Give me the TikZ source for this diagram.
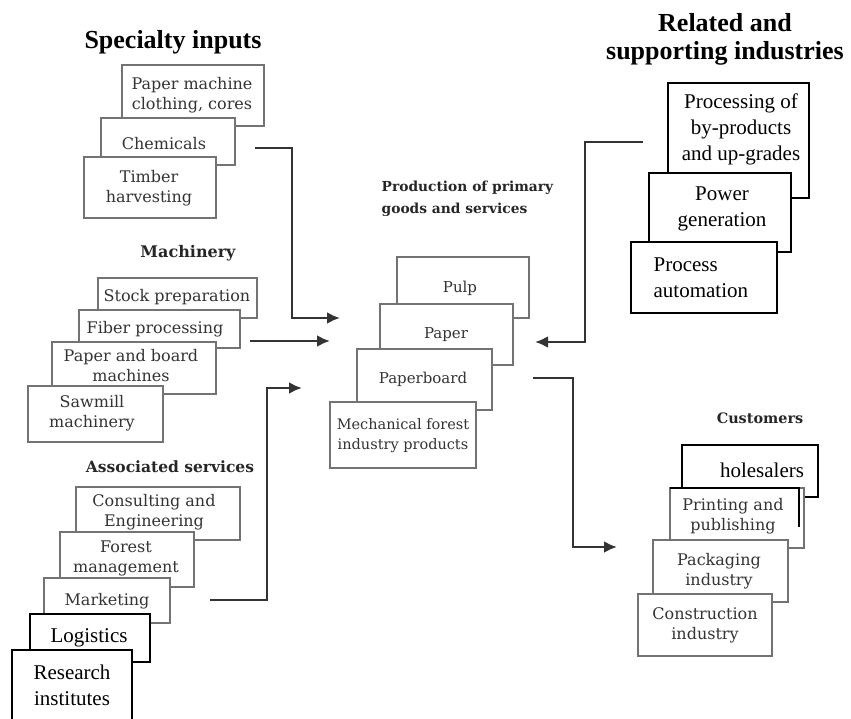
\documentclass[tikz,border=0pt]{standalone}
\usepackage{fontspec}
\setmainfont{Liberation Serif}
\newfontfamily\scanfont{DejaVu Serif}
\usetikzlibrary{arrows.meta}

\begin{document}
\begin{tikzpicture}[x=1pt, y=-1pt, line width=1.3pt,
  gbox/.style={draw=black!55, fill=white},
  kbox/.style={draw=black, fill=white},
  gtxt/.style={font=\scanfont\fontsize{#1}{20}\selectfont, text=black!80, align=center, inner sep=0pt},
  gtxt/.default=16,
  ktxt/.style={font=\fontsize{21}{26}\selectfont, align=center, inner sep=0pt},
  bigtitle/.style={font=\bfseries\fontsize{26}{28}\selectfont, align=center, inner sep=0pt},
  grptitle/.style={font=\scanfont\bfseries\fontsize{#1}{22}\selectfont, text=black!85, inner sep=0pt},
  grptitle/.default=15.5,
  flow/.style={draw=black!80, line width=2.8pt, -{Latex[length=13pt,width=12pt]}}]

\useasboundingbox (0,0) rectangle (851,719);

% Specialty inputs
\node[bigtitle] (specT) at (173,42) {Specialty inputs};
\draw[gbox] (122,65) rectangle (264,126);
\node[gtxt] (pmc) at (192,95) {Paper machine\\clothing, cores};
\draw[gbox] (101,118) rectangle (235,165);
\node[gtxt] (chem) at (164,144) {Chemicals};
\draw[gbox] (84,157) rectangle (216,218);
\node[gtxt] (timb) at (149,188) {Timber\\harvesting};

% Machinery
\node[grptitle=16] (machT) at (188,253) {Machinery};
\draw[gbox] (98,278) rectangle (257,318);
\node[gtxt] (stock) at (177,297) {Stock preparation};
\draw[gbox] (79,310) rectangle (240,348);
\node[gtxt] (fiber) at (155,329) {Fiber processing};
\draw[gbox] (52,342) rectangle (216,394);
\node[gtxt] (pbm) at (131,366) {Paper and board\\machines};
\draw[gbox] (28,386) rectangle (163,442);
\node[gtxt] (saw) at (92,413) {Sawmill\\machinery};

% Associated services
\node[grptitle] (assT) at (170,467) {Associated services};
\draw[gbox] (76,487) rectangle (240,540);
\node[gtxt] (cons) at (154,512) {Consulting and\\Engineering};
\draw[gbox] (60,532) rectangle (194,587);
\node[gtxt] (forest) at (126,558) {Forest\\management};
\draw[gbox] (44,578) rectangle (170,623);
\node[gtxt] (mkt) at (107,601) {Marketing};
\draw[kbox] (30,614) rectangle (150,662);
\node[ktxt] (logi) at (89,638) {Logistics};
\draw[kbox] (12,650) rectangle (132,730);
\node[ktxt] (resi) at (72,685) {Research\\institutes};

% Production of primary goods and services
\node[grptitle=13.8, align=left, anchor=west] (prodT) at (381,199) {Production of primary\\goods and services};
\draw[gbox] (397,257) rectangle (529,318);
\node[gtxt=15] (pulp) at (460,288) {Pulp};
\draw[gbox] (380,304) rectangle (513,365);
\node[gtxt=15] (paper) at (446,335) {Paper};
\draw[gbox] (357,349) rectangle (492,410);
\node[gtxt=15] (pboard) at (423,379) {Paperboard};
\draw[gbox] (330,402) rectangle (476,468);
\node[gtxt=14.5] (mech) at (403,436) {Mechanical forest\\industry products};

% Related and supporting industries
\node[bigtitle] (relT) at (725,39) {Related and\\supporting industries};
\draw[kbox] (668,83) rectangle (809,198);
\node[ktxt] (byprod) at (741,129) {Processing of\\by-products\\and up-grades};
\draw[kbox] (649,173) rectangle (791,252);
\node[ktxt] (power) at (722,209) {Power\\generation};
\draw[kbox] (631,242) rectangle (777,313);
\node[ktxt, align=left, anchor=west] (autom) at (653,278) {Process\\automation};

% Customers
\node[grptitle=14.4] (custT) at (760,418) {Customers};
\draw[kbox] (682,445) rectangle (818,497);
\node[ktxt] (whole) at (762,470) {holesalers};
\draw[gbox] (670,488) rectangle (804,548);
\draw[draw=black] (670,488) -- (799,488) -- (799,527);
\node[gtxt] (print) at (733,516) {Printing and\\publishing};
\draw[gbox] (653,540) rectangle (788,602);
\node[gtxt] (pack) at (719,571) {Packaging\\industry};
\draw[gbox] (638,594) rectangle (772,656);
\node[gtxt] (constr) at (705,625) {Construction\\industry};

% Flows
\coordinate (specOut) at (255,148);
\coordinate (machOut) at (250,341);
\coordinate (assOut) at (210,600);
\coordinate (relOut) at (643,142);
\coordinate (prodOut) at (533,378);
\coordinate (inSpec) at (340,318);
\coordinate (inMach) at (330,341);
\coordinate (inAss) at (302,388);
\coordinate (inRel) at (535,342);
\coordinate (inCust) at (617,547);

\draw[flow] (specOut) -- ++(37,0) |- (inSpec);
\draw[flow] (machOut) -- (inMach);
\draw[flow] (assOut) -- ++(57,0) |- (inAss);
\draw[flow] (relOut) -- ++(-58,0) |- (inRel);
\draw[flow] (prodOut) -- ++(40,0) |- (inCust);

\end{tikzpicture}
\end{document}
